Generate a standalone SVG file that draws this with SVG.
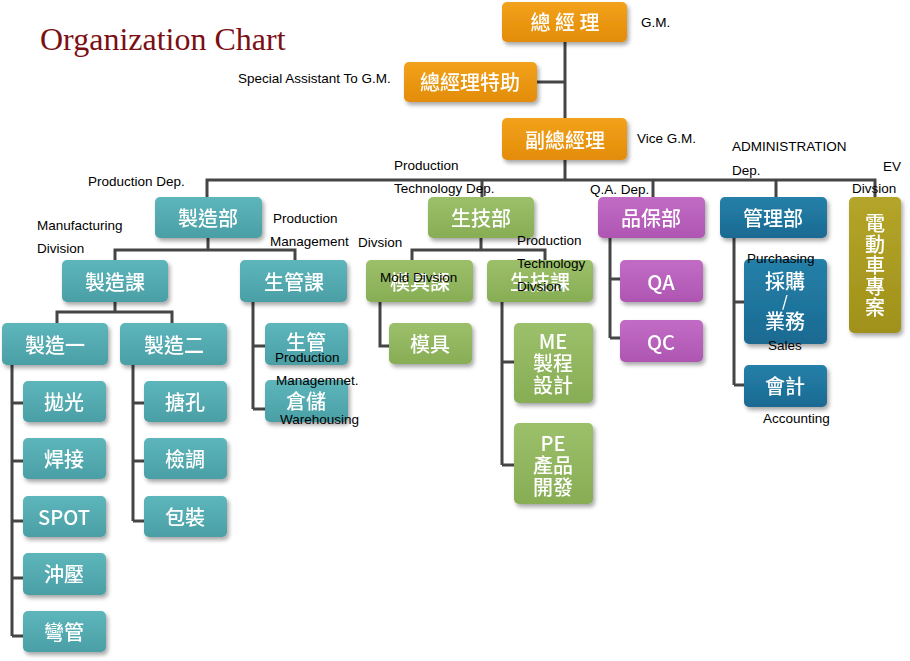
<svg xmlns="http://www.w3.org/2000/svg" width="910" height="661" viewBox="0 0 910 661">
<defs>
<filter id="sh" x="-20%" y="-20%" width="150%" height="160%">
<feGaussianBlur in="SourceAlpha" stdDeviation="2"/>
<feOffset dx="2" dy="3" result="b"/>
<feComponentTransfer><feFuncA type="linear" slope="0.35"/></feComponentTransfer>
<feMerge><feMergeNode/><feMergeNode in="SourceGraphic"/></feMerge>
</filter>
<linearGradient id="gO" x1="0" y1="0" x2="0" y2="1"><stop offset="0" stop-color="#F2A21C"/><stop offset="1" stop-color="#E38C08"/></linearGradient>
<linearGradient id="gT" x1="0" y1="0" x2="0" y2="1"><stop offset="0" stop-color="#5DB6BB"/><stop offset="1" stop-color="#4A9FA5"/></linearGradient>
<linearGradient id="gG" x1="0" y1="0" x2="0" y2="1"><stop offset="0" stop-color="#9CC06A"/><stop offset="1" stop-color="#87AD55"/></linearGradient>
<linearGradient id="gP" x1="0" y1="0" x2="0" y2="1"><stop offset="0" stop-color="#C26CC6"/><stop offset="1" stop-color="#AE56B2"/></linearGradient>
<linearGradient id="gB" x1="0" y1="0" x2="0" y2="1"><stop offset="0" stop-color="#2580A8"/><stop offset="1" stop-color="#1A6A92"/></linearGradient>
<linearGradient id="gY" x1="0" y1="0" x2="0" y2="1"><stop offset="0" stop-color="#B4A52A"/><stop offset="1" stop-color="#A0911A"/></linearGradient>
</defs>
<style>
.bx{filter:url(#sh)}
.o{fill:url(#gO)}.t{fill:url(#gT)}.g{fill:url(#gG)}.p{fill:url(#gP)}.b{fill:url(#gB)}.y{fill:url(#gY)}
.bt{fill:#fff;font-family:"Noto Sans CJK TC","Noto Sans",sans-serif;font-size:20px;font-weight:500;text-anchor:middle;dominant-baseline:central}
.lb{fill:#000;font-family:"Liberation Sans","Noto Sans",sans-serif;font-size:13.5px;dominant-baseline:central}
.ln{stroke:#454545;stroke-width:3;fill:none}
</style>
<rect width="910" height="661" fill="#fff"/>
<text x="40" y="50" font-family="Liberation Serif,serif" font-size="32" fill="#7B0F14">Organization Chart</text>

<g id="connectors" class="ln">
<path d="M565 42V180M537 82H565"/>
<path d="M207 197V180H875V197M482 180V197M653 180V197M776 180V197"/>
<path d="M208 238V250M115 260V250H295V260"/>
<path d="M481 238V250M412 260V250H545V260"/>
<path d="M115 302V312M57 323V312H172V323"/>
<path d="M253 302V409M253 346H265M253 409H265"/>
<path d="M380 302V346H390"/>
<path d="M502 302V465M502 362H514M502 465H514"/>
<path d="M610 238V338M610 279H620M610 338H620"/>
<path d="M734 238V385M734 302H744M734 385H744"/>
<path d="M12 365V636M12 403H23M12 461H23M12 521H23M12 578H23M12 636H23"/>
<path d="M133 365V521M133 403H144M133 461H144M133 521H144"/>
</g>

<g id="gm" class="bx"><rect class="o" x="502" y="2" width="125" height="40" rx="5"/><text class="bt" x="565" y="21">總 經 理</text></g>
<g id="assistant" class="bx"><rect class="o" x="404" y="62" width="133" height="40" rx="5"/><text class="bt" x="470" y="81">總經理特助</text></g>
<g id="vgm" class="bx"><rect class="o" x="502" y="118" width="125" height="42" rx="5"/><text class="bt" x="565" y="139">副總經理</text></g>

<g id="mfg-dep" class="bx"><rect class="t" x="155" y="197" width="107" height="41" rx="5"/><text class="bt" x="208" y="217">製造部</text></g>
<g id="tech-dep" class="bx"><rect class="g" x="428" y="197" width="106" height="41" rx="5"/><text class="bt" x="481" y="217">生技部</text></g>
<g id="qa-dep" class="bx"><rect class="p" x="598" y="197" width="107" height="41" rx="5"/><text class="bt" x="651" y="217">品保部</text></g>
<g id="admin-dep" class="bx"><rect class="b" x="720" y="197" width="107" height="41" rx="5"/><text class="bt" x="773" y="217">管理部</text></g>
<g id="ev" class="bx"><rect class="y" x="849" y="197" width="52" height="136" rx="5"/>
<text class="bt" x="875" font-size="19"><tspan x="875" y="222">電</tspan><tspan x="875" y="243">動</tspan><tspan x="875" y="264">車</tspan><tspan x="875" y="285">專</tspan><tspan x="875" y="306">案</tspan></text></g>

<g id="mfg-sec" class="bx"><rect class="t" x="62" y="260" width="106" height="42" rx="5"/><text class="bt" x="115" y="281">製造課</text></g>
<g id="pm-sec" class="bx"><rect class="t" x="240" y="260" width="107" height="42" rx="5"/><text class="bt" x="294" y="281">生管課</text></g>
<g id="mold-sec" class="bx"><rect class="g" x="366" y="260" width="107" height="42" rx="5"/><text class="bt" x="420" y="281">模具課</text></g>
<g id="tech-sec" class="bx"><rect class="g" x="487" y="260" width="106" height="42" rx="5"/><text class="bt" x="540" y="281">生技課</text></g>

<g id="mfg1" class="bx"><rect class="t" x="2" y="323" width="106" height="42" rx="5"/><text class="bt" x="55" y="344">製造一</text></g>
<g id="mfg2" class="bx"><rect class="t" x="120" y="323" width="107" height="42" rx="5"/><text class="bt" x="174" y="344">製造二</text></g>

<g id="pm" class="bx"><rect class="t" x="265" y="323" width="83" height="42" rx="5"/><text class="bt" x="306" y="341">生管</text></g>
<g id="wh" class="bx"><rect class="t" x="265" y="380" width="83" height="42" rx="5"/><text class="bt" x="306" y="400">倉儲</text></g>
<g id="mold" class="bx"><rect class="g" x="389" y="323" width="83" height="41" rx="5"/><text class="bt" x="430" y="343">模具</text></g>
<g id="me" class="bx"><rect class="g" x="514" y="323" width="79" height="80" rx="5"/><text class="bt" x="553"><tspan x="553" y="340">ME</tspan><tspan x="553" y="362">製程</tspan><tspan x="553" y="384">設計</tspan></text></g>
<g id="pe" class="bx"><rect class="g" x="514" y="423" width="79" height="81" rx="5"/><text class="bt" x="553"><tspan x="553" y="442">PE</tspan><tspan x="553" y="464">產品</tspan><tspan x="553" y="486">開發</tspan></text></g>

<g id="qa" class="bx"><rect class="p" x="620" y="260" width="83" height="42" rx="5"/><text class="bt" x="661" y="281">QA</text></g>
<g id="qc" class="bx"><rect class="p" x="620" y="320" width="83" height="42" rx="5"/><text class="bt" x="661" y="341">QC</text></g>
<g id="purch" class="bx"><rect class="b" x="744" y="259" width="83" height="85" rx="5"/><text class="bt" x="785"><tspan x="785" y="280">採購</tspan><tspan x="785" y="300" font-size="15">/</tspan><tspan x="785" y="320">業務</tspan></text></g>
<g id="acct" class="bx"><rect class="b" x="744" y="365" width="83" height="42" rx="5"/><text class="bt" x="785" y="385">會計</text></g>

<g id="polish" class="bx"><rect class="t" x="23" y="381" width="83" height="41" rx="5"/><text class="bt" x="64" y="401">拋光</text></g>
<g id="weld" class="bx"><rect class="t" x="23" y="438" width="83" height="41" rx="5"/><text class="bt" x="64" y="458">焊接</text></g>
<g id="spot" class="bx"><rect class="t" x="23" y="496" width="83" height="41" rx="5"/><text class="bt" x="64" y="516">SPOT</text></g>
<g id="press" class="bx"><rect class="t" x="23" y="553" width="83" height="42" rx="5"/><text class="bt" x="64" y="573">沖壓</text></g>
<g id="bend" class="bx"><rect class="t" x="23" y="611" width="83" height="41" rx="5"/><text class="bt" x="64" y="631">彎管</text></g>
<g id="bore" class="bx"><rect class="t" x="144" y="381" width="83" height="41" rx="5"/><text class="bt" x="185" y="401">搪孔</text></g>
<g id="adjust" class="bx"><rect class="t" x="144" y="438" width="83" height="41" rx="5"/><text class="bt" x="185" y="458">檢調</text></g>
<g id="pack" class="bx"><rect class="t" x="144" y="496" width="83" height="41" rx="5"/><text class="bt" x="185" y="516">包裝</text></g>

<g id="labels">
<text class="lb" x="641" y="22">G.M.</text>
<text class="lb" x="238" y="78">Special Assistant To G.M.</text>
<text class="lb" x="637" y="138">Vice G.M.</text>
<text class="lb" x="732" y="146">ADMINISTRATION</text>
<text class="lb" x="732" y="170">Dep.</text>
<text class="lb" x="394" y="165">Production</text>
<text class="lb" x="394" y="188">Technology Dep.</text>
<text class="lb" x="88" y="181">Production Dep.</text>
<text class="lb" x="590" y="189">Q.A. Dep.</text>
<text class="lb" x="883" y="166">EV</text>
<text class="lb" x="852" y="188">Divsion</text>
<text class="lb" x="37" y="225">Manufacturing</text>
<text class="lb" x="37" y="248">Division</text>
<text class="lb" x="273" y="218">Production</text>
<text class="lb" x="270" y="241">Management</text>
<text class="lb" x="358" y="242">Divsion</text>
<text class="lb" x="517" y="240">Production</text>
<text class="lb" x="517" y="263">Technology</text>
<text class="lb" x="517" y="286">Divsion</text>
<text class="lb" x="380" y="277">Mold Divsion</text>
<text class="lb" x="275" y="357">Production</text>
<text class="lb" x="276" y="380">Managemnet.</text>
<text class="lb" x="280" y="419">Warehousing</text>
<text class="lb" x="747" y="258">Purchasing</text>
<text class="lb" x="768" y="345">Sales</text>
<text class="lb" x="763" y="418">Accounting</text>
</g>
</svg>
